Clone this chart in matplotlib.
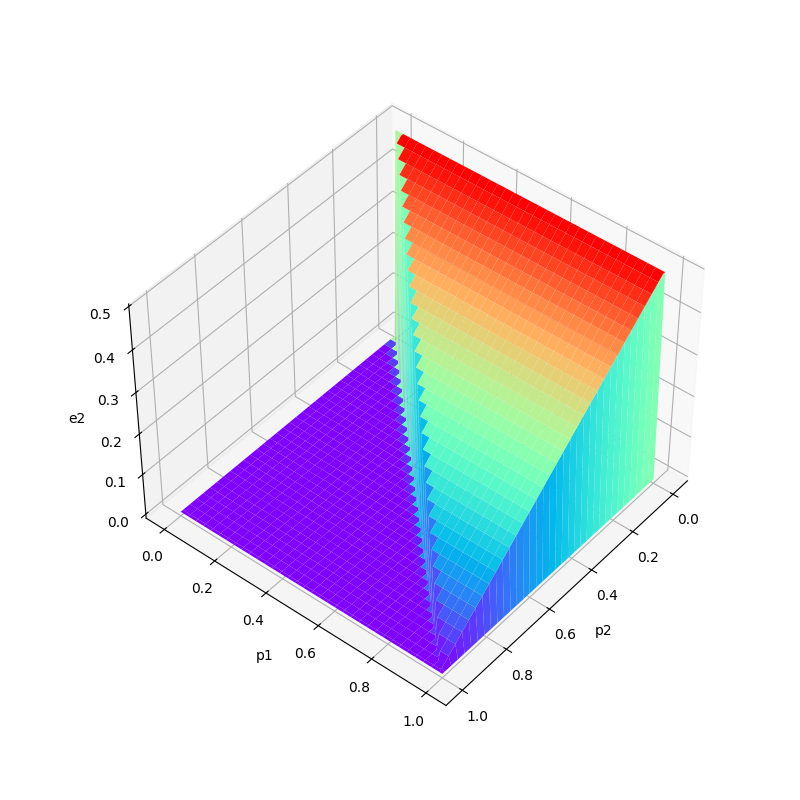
import numpy as np
import matplotlib
matplotlib.use('Agg')
import matplotlib.pyplot as plt

# grid of the probabilities, same for p1 and p2
p_values = [0.00, 0.01, 0.02, 0.03, 0.04, 0.05, 0.06, 0.07, 0.08, 0.09,
            0.10, 0.11, 0.12, 0.13, 0.14, 0.15, 0.16, 0.17, 0.18, 0.19,
            0.20, 0.21, 0.22, 0.23, 0.24, 0.25, 0.26, 0.27, 0.28, 0.29,
            0.30, 0.31, 0.32, 0.33, 0.34, 0.35, 0.36, 0.37, 0.38, 0.39,
            0.40, 0.41, 0.42, 0.43, 0.44, 0.45, 0.46, 0.47, 0.48, 0.49,
            0.50, 0.51, 0.52, 0.53, 0.54, 0.55, 0.56, 0.57, 0.58, 0.59,
            0.60, 0.61, 0.62, 0.63, 0.64, 0.65, 0.66, 0.67, 0.68, 0.69,
            0.70, 0.71, 0.72, 0.73, 0.74, 0.75, 0.76, 0.77, 0.78, 0.79,
            0.80, 0.81, 0.82, 0.83, 0.84, 0.85, 0.86, 0.87, 0.88, 0.89,
            0.90, 0.91, 0.92, 0.93, 0.94, 0.95, 0.96, 0.97, 0.98, 0.99,
            1.00]
# height of the raised part for each p2 value
e2_levels = [0.495, 0.495, 0.490, 0.485, 0.480, 0.475, 0.470, 0.465, 0.460, 0.455,
             0.450, 0.445, 0.440, 0.435, 0.430, 0.425, 0.420, 0.415, 0.410, 0.405,
             0.400, 0.395, 0.390, 0.385, 0.380, 0.375, 0.370, 0.365, 0.360, 0.355,
             0.350, 0.345, 0.340, 0.335, 0.330, 0.325, 0.320, 0.315, 0.310, 0.305,
             0.300, 0.295, 0.290, 0.285, 0.280, 0.275, 0.270, 0.265, 0.260, 0.255,
             0.250, 0.245, 0.240, 0.235, 0.230, 0.225, 0.220, 0.215, 0.210, 0.205,
             0.200, 0.195, 0.190, 0.185, 0.180, 0.175, 0.170, 0.165, 0.160, 0.155,
             0.150, 0.145, 0.140, 0.135, 0.130, 0.125, 0.120, 0.115, 0.110, 0.105,
             0.100, 0.095, 0.090, 0.085, 0.080, 0.075, 0.070, 0.065, 0.060, 0.055,
             0.050, 0.045, 0.040, 0.035, 0.030, 0.025, 0.020, 0.015, 0.010, 0.005,
             0.000]

n = len(p_values)
e2 = np.zeros((n, n))
for j in range(n):  # j is p2, i is p1
    for i in range(n - 1):  # last p1 column stays on the floor
        if i >= j:
            e2[i, j] = e2_levels[j]

p2, p1 = np.meshgrid(p_values, p_values)

fig = plt.figure(figsize=(8, 8), dpi=100)
ax = fig.add_subplot(projection='3d')
ax.plot_surface(p2, p1, e2, cmap='rainbow')
ax.set_xlabel('p2')
ax.set_ylabel('p1')
ax.set_zlabel('e2')
ax.view_init(elev=44, azim=39.5)
fig.savefig('out.png', dpi=100)
